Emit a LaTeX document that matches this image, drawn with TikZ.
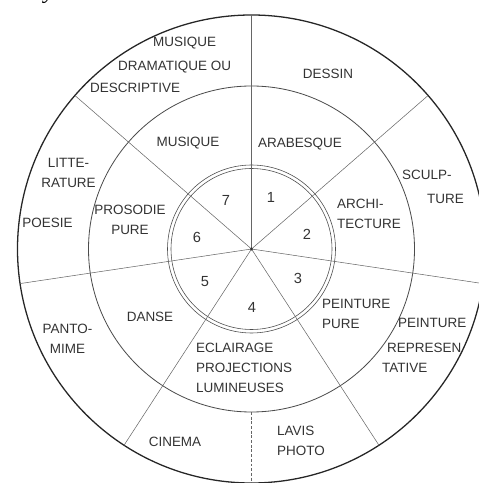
\documentclass[tikz,border=0pt]{standalone}
\usepackage{fontspec}
\setmainfont{Liberation Sans}
\newfontfamily\captionfont{Liberation Serif}
\begin{document}
\begin{tikzpicture}[
    x=0.03cm, y=0.03cm,
    lbl/.style={font=\fontsize{11.5}{17}\selectfont, text=black!80, inner sep=0pt, align=center},
    lblw/.style={lbl, anchor=west, align=left},
    num/.style={font=\fontsize{12.5}{15}\selectfont, text=black!80, inner sep=0pt},
    rim/.style={draw=black!85, line width=1.1pt},
    ring/.style={draw=black!70, line width=0.7pt},
    spoke/.style={draw=black!60, line width=0.45pt},
]
\useasboundingbox (-251.5,-234) rectangle (226.5,249);
% Caption line cut off by the page edge
\begin{scope}
\clip (-251.5,-234) rectangle (226.5,249);
\node[font=\captionfont\itshape\fontsize{20}{24}\selectfont, anchor=base west, inner sep=0pt] (caption) at (-255,250) {son système des beaux-arts :};
\end{scope}
% Circles
\coordinate (c) at (0,0);
\draw[rim] (c) circle (234);
\draw[ring] (c) circle (163);
\draw[ring, line width=0.5pt] (c) circle (84);
\draw[ring, line width=0.5pt] (c) circle (80.5);
% Spokes
\foreach \a [count=\i] in {90,41,-8.5,-57,237,188.5,139}
  \coordinate (r\i) at (\a:234);
\foreach \i in {1,...,7}
  \draw[spoke] (c) -- (r\i);
\fill[black!80] (c) circle (1.6);
% Dashed split in the outer ring
\coordinate (d1) at (-90:163);
\coordinate (d2) at (-90:234);
\draw[spoke, dash pattern=on 2.5pt off 1.5pt] (d1) -- (d2);
% Inner numbers
\node[num] (n1) at (19.5,52) {1};
\node[num] (n2) at (55.5,15) {2};
\node[num] (n3) at (46.5,-29) {3};
\node[num] (n4) at (0.5,-58) {4};
\node[num] (n5) at (-46.5,-33) {5};
\node[num] (n6) at (-54.5,12) {6};
\node[num] (n7) at (-25.5,49) {7};
% Middle ring
\node[lbl] (musique) at (-63.5,106) {MUSIQUE};
\node[lbl] (arabesque) at (48.5,105) {ARABESQUE};
\node[lblw] (archi) at (85.5,35) {ARCHI-\\TECTURE};
\node[lblw] (peintpure) at (70.5,-65) {PEINTURE\\PURE};
\node[lblw] (eclairage) at (-55.5,-119) {ECLAIRAGE\\PROJECTIONS\\LUMINEUSES};
\node[lbl] (danse) at (-101.5,-68) {DANSE};
\node[lbl] (prosodie) at (-121.5,29) {PROSODIE\\PURE};
% Outer ring
\node[lblw] (musdram1) at (-98.5,206) {MUSIQUE};
\node[lblw] (musdram2) at (-133.5,182) {DRAMATIQUE OU};
\node[lblw] (musdram3) at (-161.5,161) {DESCRIPTIVE};
\node[lbl] (dessin) at (76.5,175) {DESSIN};
\node[lblw] (sculp1) at (150.5,74) {SCULP-};
\node[lblw] (sculp2) at (175.5,50) {TURE};
\node[lblw] (peintrep1) at (146.5,-74) {PEINTURE};
\node[lblw] (peintrep2) at (135.5,-99) {REPRESEN};
\node[lblw] (peintrep3) at (130.5,-119) {TATIVE};
\node[lblw] (lavis) at (25.5,-192) {LAVIS\\PHOTO};
\node[lbl] (cinema) at (-76.5,-193) {CINEMA};
\node[lbl] (panto) at (-184,-89.5) {PANTO-\\MIME};
\node[lbl] (litte) at (-183,76) {LITTE-\\RATURE};
\node[lbl] (poesie) at (-204,26) {POESIE};
\end{tikzpicture}
\end{document}
